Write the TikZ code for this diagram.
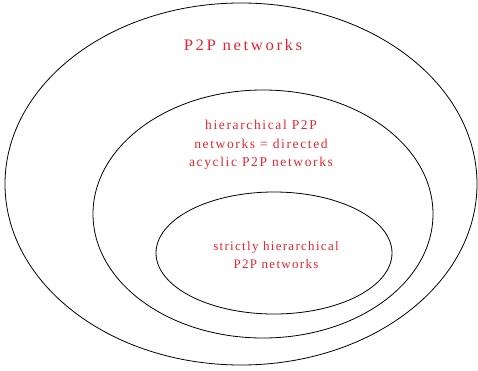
\documentclass[tikz,border=0pt]{standalone}
\usepackage{fontspec}
\setmainfont{Liberation Serif}
\newfontfamily\titlefont{Liberation Serif}[LetterSpace=16,FakeStretch=1.05]
\newfontfamily\midfont{Liberation Serif}[LetterSpace=12]
\newfontfamily\labelfont{Liberation Serif}[LetterSpace=10]
\usetikzlibrary{shapes.geometric}
\definecolor{labelred}{RGB}{235,35,45}
\tikzset{
  setring/.style={draw=black, line width=0.8pt, ellipse, inner sep=0pt},
  settitle/.style={text=labelred, font=\titlefont\fontsize{16}{19}\selectfont, inner sep=0pt, anchor=base},
  setmid/.style={text=labelred, font=\midfont\fontsize{13.5}{18.5}\selectfont, align=center, inner sep=0pt, anchor=base},
  setlabel/.style={text=labelred, font=\labelfont\fontsize{13}{18}\selectfont, align=center, inner sep=0pt, anchor=base},
}
\begin{document}
\begin{tikzpicture}[x=1pt,y=-1pt]
\useasboundingbox (0,0) rectangle (478,371);
\node[setring, minimum width=472pt, minimum height=362pt] (outer) at (241,184) {};
\node[setring, minimum width=340pt, minimum height=248pt] (middle) at (263,214) {};
\node[setring, minimum width=236pt, minimum height=122pt] (inner) at (274,253) {};
\node[settitle] (t1) at (243,51) {P2P networks};
\node[setmid] (t2) at (261,167) {hierarchical P2P\\networks = directed\\acyclic P2P networks};
\node[setlabel] (t3) at (276,268) {strictly hierarchical\\P2P networks};
\end{tikzpicture}
\end{document}
